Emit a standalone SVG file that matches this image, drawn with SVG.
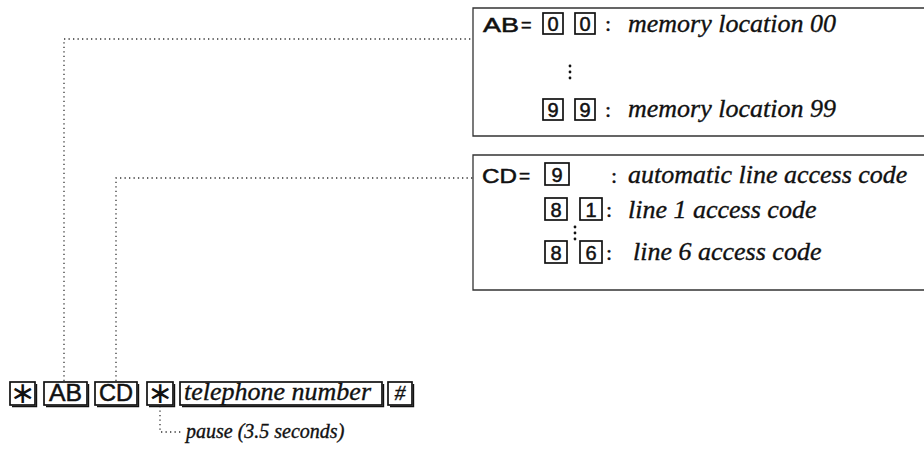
<svg xmlns="http://www.w3.org/2000/svg" width="924" height="464" viewBox="0 0 924 464">
<style>
.bg{fill:#fff}
.frame{fill:none;stroke:#333;stroke-width:1.3}
.dot{fill:none;stroke:#333;stroke-width:1.3;stroke-dasharray:1.3 3.2}
.key{fill:#fff;stroke:#111;stroke-width:1.7}
.sh{fill:none;stroke:#111;stroke-width:1.4}
.sans{font-family:"Liberation Sans",Arial,sans-serif;fill:#111;stroke:#111;stroke-width:0.5}
.star{font-family:"DejaVu Sans",sans-serif;fill:#111}
.it{font-family:"Liberation Serif","Times New Roman",serif;font-style:italic;fill:#111;stroke:#111;stroke-width:0.35}
.serif{font-family:"Liberation Serif","Times New Roman",serif;fill:#111;stroke:#111;stroke-width:0.4}
.ell{fill:#111}
</style>
<rect class="bg" x="0" y="0" width="924" height="464"/>

<g id="connectors">
  <path class="dot" d="M64,381 V39 H473"/>
  <path class="dot" d="M116,381 V178 H473"/>
  <path class="dot" d="M160,406 V432 H183"/>
</g>

<g id="memory-box">
  <path class="frame" d="M924,8 H473 V136 H924"/>
  <text class="sans" x="483" y="32" font-size="20" textLength="36" lengthAdjust="spacingAndGlyphs">AB</text>
  <text class="sans" x="521" y="31" font-size="18">=</text>
  <rect class="key" x="543" y="13" width="20" height="21"/>
  <text class="sans" x="553" y="31" font-size="20" text-anchor="middle">0</text>
  <rect class="key" x="575" y="13" width="20" height="21"/>
  <text class="sans" x="585" y="31" font-size="20" text-anchor="middle">0</text>
  <text class="serif" x="605" y="31" font-size="22">:</text>
  <text class="it" x="628" y="32" font-size="26">memory location 00</text>
  <circle class="ell" cx="570" cy="66" r="1.4"/>
  <circle class="ell" cx="570" cy="72" r="1.4"/>
  <circle class="ell" cx="570" cy="78" r="1.4"/>
  <rect class="key" x="543" y="99" width="20" height="21"/>
  <text class="sans" x="553" y="117" font-size="20" text-anchor="middle">9</text>
  <rect class="key" x="575" y="99" width="20" height="21"/>
  <text class="sans" x="585" y="117" font-size="20" text-anchor="middle">9</text>
  <text class="serif" x="605" y="117" font-size="22">:</text>
  <text class="it" x="628" y="117" font-size="26">memory location 99</text>
</g>

<g id="line-code-box">
  <path class="frame" d="M924,155 H473 V290 H924"/>
  <text class="sans" x="482" y="183" font-size="21" textLength="35" lengthAdjust="spacingAndGlyphs">CD</text>
  <text class="sans" x="519" y="182" font-size="19">=</text>
  <rect class="key" x="545" y="163" width="24" height="22"/>
  <text class="sans" x="557" y="182" font-size="20" text-anchor="middle">9</text>
  <text class="serif" x="611" y="183" font-size="22">:</text>
  <text class="it" x="628" y="183" font-size="26">automatic line access code</text>
  <rect class="key" x="545" y="198" width="22" height="22"/>
  <text class="sans" x="556" y="217" font-size="20" text-anchor="middle">8</text>
  <rect class="key" x="580" y="198" width="22" height="22"/>
  <text class="sans" x="591" y="217" font-size="20" text-anchor="middle">1</text>
  <text class="serif" x="606" y="217" font-size="22">:</text>
  <text class="it" x="628" y="218" font-size="26">line 1 access code</text>
  <circle class="ell" cx="575" cy="227" r="1.4"/>
  <circle class="ell" cx="575" cy="233" r="1.4"/>
  <circle class="ell" cx="575" cy="239" r="1.4"/>
  <rect class="key" x="545" y="241" width="22" height="22"/>
  <text class="sans" x="556" y="260" font-size="20" text-anchor="middle">8</text>
  <rect class="key" x="580" y="241" width="22" height="22"/>
  <text class="sans" x="591" y="260" font-size="20" text-anchor="middle">6</text>
  <text class="serif" x="606" y="260" font-size="22">:</text>
  <text class="it" x="633" y="260" font-size="26">line 6 access code</text>
</g>

<g id="key-star1">
  <rect class="key" x="10" y="382" width="25" height="23"/>
  <path class="sh" d="M12,406.5 H36.5 V384"/>
  <text class="star" x="22.5" y="403" font-size="30" text-anchor="middle">∗</text>
</g>
<g id="key-ab">
  <rect class="key" x="44" y="382" width="43" height="23"/>
  <path class="sh" d="M46,406.5 H88.5 V384"/>
  <text class="sans" x="49" y="401" font-size="23" textLength="33" lengthAdjust="spacingAndGlyphs">AB</text>
</g>
<g id="key-cd">
  <rect class="key" x="95" y="382" width="42" height="23"/>
  <path class="sh" d="M97,406.5 H138.5 V384"/>
  <text class="sans" x="99" y="401" font-size="23" textLength="34" lengthAdjust="spacingAndGlyphs">CD</text>
</g>
<g id="key-star2">
  <rect class="key" x="147" y="382" width="26" height="23"/>
  <path class="sh" d="M149,406.5 H174.5 V384"/>
  <text class="star" x="160" y="403" font-size="30" text-anchor="middle">∗</text>
</g>
<g id="key-telephone">
  <rect class="key" x="180" y="382" width="202" height="23"/>
  <path class="sh" d="M182,406.5 H383.5 V384"/>
  <text class="it" x="184" y="400" font-size="26">telephone number</text>
</g>
<g id="key-hash">
  <rect class="key" x="388" y="382" width="24" height="23"/>
  <path class="sh" d="M390,406.5 H413.5 V384"/>
  <text class="it" x="400" y="400" font-size="22" text-anchor="middle">#</text>
</g>
<g id="pause-label">
  <text class="it" x="186" y="438" font-size="20">pause (3.5 seconds)</text>
</g>
</svg>
